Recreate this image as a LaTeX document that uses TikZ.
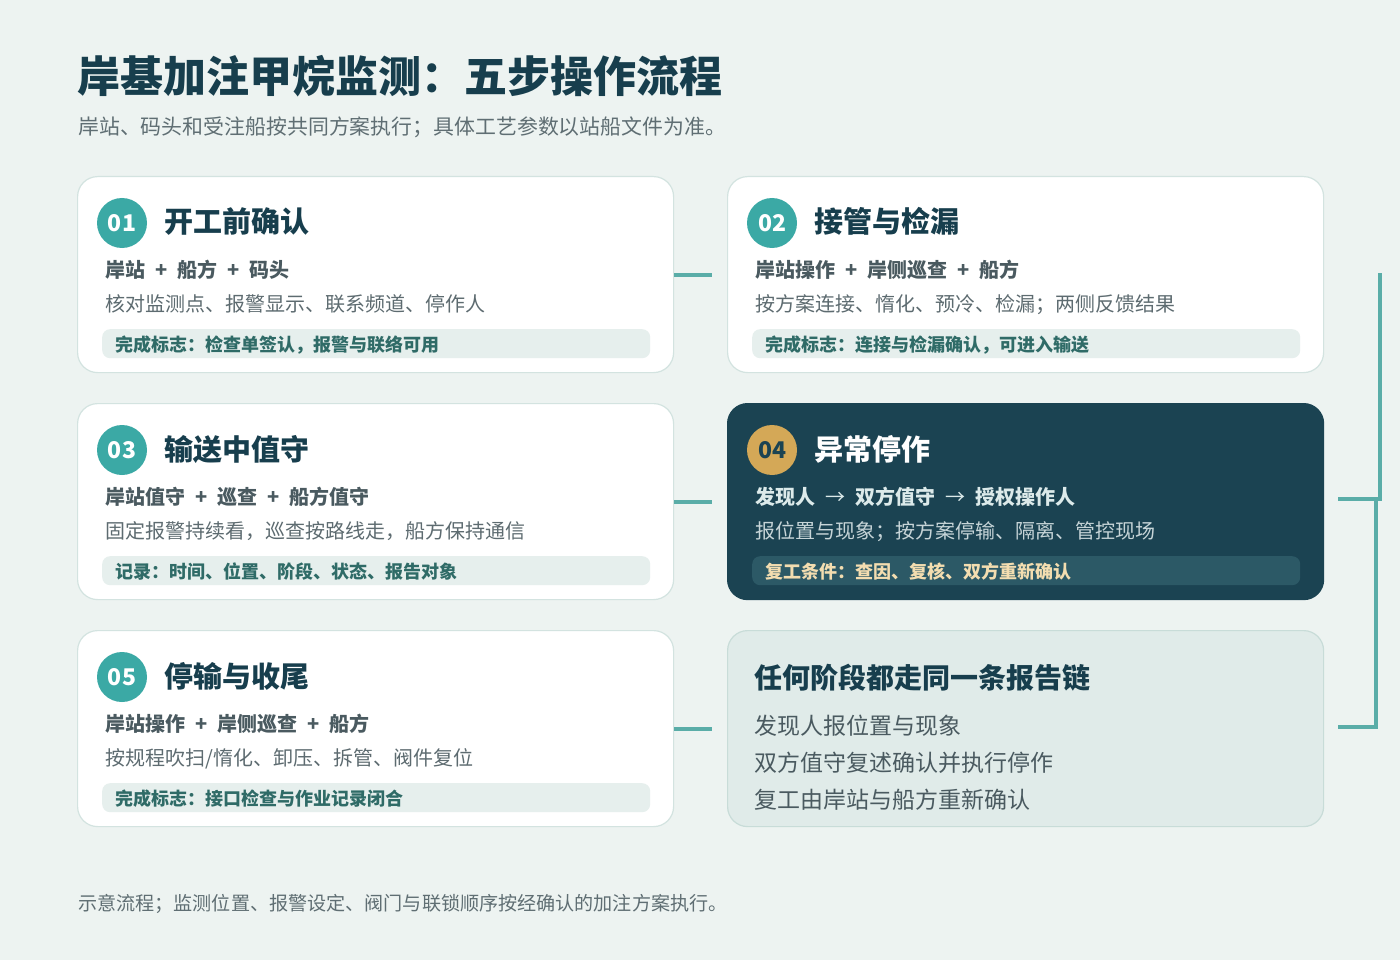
\documentclass[tikz,border=0pt]{standalone}
\usepackage{fontspec}
\setmainfont{Noto Sans CJK SC}
\definecolor{bgc}{HTML}{EDF3F1}
\definecolor{cardline}{HTML}{D3E3E0}
\definecolor{teal}{HTML}{3BA9A5}
\definecolor{conn}{HTML}{5AADA8}
\definecolor{ink}{HTML}{173E4D}
\definecolor{subc}{HTML}{4A5A60}
\definecolor{descc}{HTML}{5D6B70}
\definecolor{barf}{HTML}{E6EFED}
\definecolor{bart}{HTML}{2F6B67}
\definecolor{darkf}{HTML}{1B4352}
\definecolor{darkbar}{HTML}{2C5966}
\definecolor{gold}{HTML}{D4A857}
\definecolor{goldt}{HTML}{F3DDB0}
\definecolor{lightsub}{HTML}{DCEAEA}
\definecolor{lightdesc}{HTML}{C7D5D8}
\definecolor{sumf}{HTML}{E0EBE9}
\definecolor{sumline}{HTML}{C8DCD8}
\definecolor{graytxt}{HTML}{5F6E73}
\newcommand\pl{\hspace{0.5em}+\hspace{0.5em}}
\newcommand\ar{\hspace{0.5em}{\mdseries →}\hspace{0.5em}}
\newcommand\mkcard[8]{%
\begin{scope}[shift={(#2,#3)}]
\node[cardbox] (#1) at (0,0) {};
\node[badgebox] (#1-n) at (45,47) {#4};
\node[ttl] (#1-t) at (87,57) {#5};
\node[subt] (#1-s) at (28,101) {#6};
\node[desct] (#1-d) at (28,135) {#7};
\node[barbox] (#1-b) at (25,153) {};
\node[bartext] (#1-bt) at (38,175) {#8};
\end{scope}}
\begin{document}
\begin{tikzpicture}[x=1pt,y=-1pt,
  cardbox/.style={draw=cardline, line width=1.2pt, fill=white, rounded corners=20pt, minimum width=596pt, minimum height=196pt, anchor=north west, inner sep=0pt},
  badgebox/.style={circle, fill=teal, minimum size=50pt, inner sep=0pt, text=white, font=\fontsize{23}{26}\selectfont\bfseries},
  ttl/.style={anchor=base west, inner sep=0pt, text=ink, font=\fontsize{29}{34}\selectfont\bfseries},
  subt/.style={anchor=base west, inner sep=0pt, text=subc, font=\fontsize{20}{24}\selectfont\bfseries},
  desct/.style={anchor=base west, inner sep=0pt, text=descc, font=\fontsize{20}{24}\selectfont},
  barbox/.style={fill=barf, rounded corners=8pt, minimum width=548pt, minimum height=29pt, anchor=north west, inner sep=0pt},
  bartext/.style={anchor=base west, inner sep=0pt, text=bart, font=\fontsize{18}{21}\selectfont\bfseries},
  plain/.style={anchor=base west, inner sep=0pt},
  link/.style={draw=conn, line width=4pt}
]
\fill[bgc] (0,0) rectangle (1400,960);
\useasboundingbox (0,0) rectangle (1400,960);

\node[plain, text=ink, font=\fontsize{43}{50}\selectfont\bfseries] (title) at (77,93) {岸基加注甲烷监测：五步操作流程};
\node[plain, text=graytxt, font=\fontsize{20.9}{24}\selectfont] (subtitle) at (78,135) {岸站、码头和受注船按共同方案执行；具体工艺参数以站船文件为准。};

\mkcard{c1}{77}{176}{01}{开工前确认}{岸站\pl 船方\pl 码头}{核对监测点、报警显示、联系频道、停作人}{完成标志：检查单签认，报警与联络可用}
\mkcard{c2}{727}{176}{02}{接管与检漏}{岸站操作\pl 岸侧巡查\pl 船方}{按方案连接、惰化、预冷、检漏；两侧反馈结果}{完成标志：连接与检漏确认，可进入输送}
\mkcard{c3}{77}{403}{03}{输送中值守}{岸站值守\pl 巡查\pl 船方值守}{固定报警持续看，巡查按路线走，船方保持通信}{记录：时间、位置、阶段、状态、报告对象}
\begin{scope}[
  cardbox/.style={draw=darkf, line width=1.2pt, fill=darkf, rounded corners=20pt, minimum width=596pt, minimum height=196pt, anchor=north west, inner sep=0pt},
  badgebox/.style={circle, fill=gold, minimum size=50pt, inner sep=0pt, text=darkf, font=\fontsize{23}{26}\selectfont\bfseries},
  ttl/.style={anchor=base west, inner sep=0pt, text=white, font=\fontsize{29}{34}\selectfont\bfseries},
  subt/.style={anchor=base west, inner sep=0pt, text=lightsub, font=\fontsize{20}{24}\selectfont\bfseries},
  desct/.style={anchor=base west, inner sep=0pt, text=lightdesc, font=\fontsize{20}{24}\selectfont},
  barbox/.style={fill=darkbar, rounded corners=8pt, minimum width=548pt, minimum height=29pt, anchor=north west, inner sep=0pt},
  bartext/.style={anchor=base west, inner sep=0pt, text=goldt, font=\fontsize{18}{21}\selectfont\bfseries}]
\mkcard{c4}{727}{403}{04}{异常停作}{发现人\ar 双方值守\ar 授权操作人}{报位置与现象；按方案停输、隔离、管控现场}{复工条件：查因、复核、双方重新确认}
\end{scope}
\mkcard{c5}{77}{630}{05}{停输与收尾}{岸站操作\pl 岸侧巡查\pl 船方}{按规程吹扫/惰化、卸压、拆管、阀件复位}{完成标志：接口检查与作业记录闭合}

% summary card
\node[draw=sumline, line width=1.2pt, fill=sumf, rounded corners=20pt, minimum width=596pt, minimum height=196pt, anchor=north west, inner sep=0pt] (c6) at (727,630) {};
\node[plain, text=ink, font=\fontsize{28}{34}\selectfont\bfseries] (c6-t) at (754,688) {任何阶段都走同一条报告链};
\node[plain, text=subc, font=\fontsize{23}{28}\selectfont] (c6-l1) at (754,734) {发现人报位置与现象};
\node[plain, text=subc, font=\fontsize{23}{28}\selectfont] (c6-l2) at (754,771) {双方值守复述确认并执行停作};
\node[plain, text=subc, font=\fontsize{23}{28}\selectfont] (c6-l3) at (754,808) {复工由岸站与船方重新确认};

% connectors between columns
\path (c1.east) ++(38,0) coordinate (k1);
\path (c3.east) ++(38,0) coordinate (k3);
\path (c5.east) ++(38,0) coordinate (k5);
\draw[link] (c1.east) -- (k1);
\draw[link] (c3.east) -- (k3);
\draw[link] (c5.east) -- (k5);

% right bracket
\coordinate (b0) at (1380,273);
\coordinate (b1) at (1380,501);
\coordinate (b2) at (1338,499);
\coordinate (b2e) at (1382,499);
\coordinate (b3) at (1376,499);
\coordinate (b4) at (1376,727);
\coordinate (b5) at (1338,727);
\draw[link] (b0) -- (b1);
\draw[link] (b2) -- (b2e);
\draw[link] (b3) -- (b4) -- (b5);

\node[plain, text=graytxt, font=\fontsize{19.1}{23}\selectfont] (footer) at (78,910) {示意流程；监测位置、报警设定、阀门与联锁顺序按经确认的加注方案执行。};
\end{tikzpicture}
\end{document}
